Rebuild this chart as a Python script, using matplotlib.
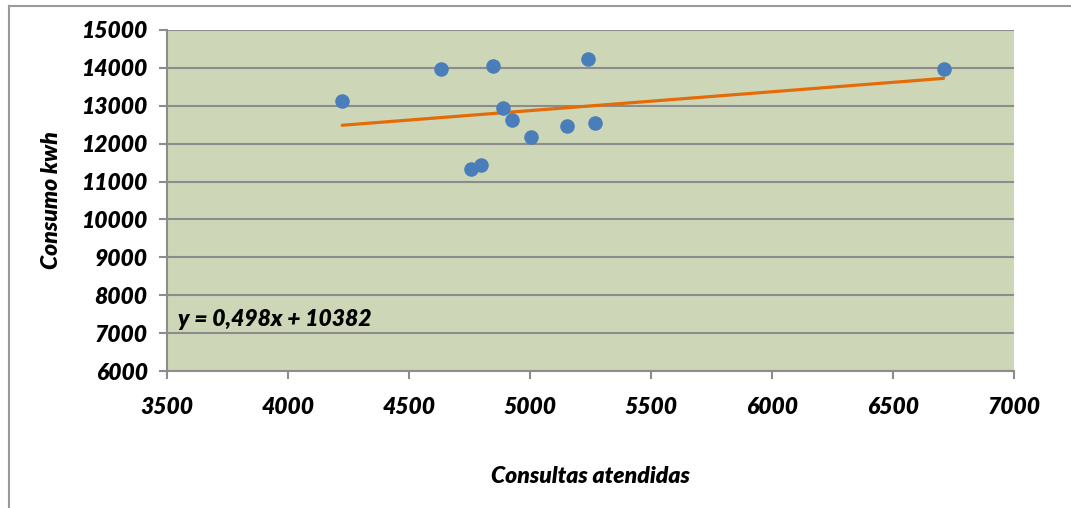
import matplotlib
matplotlib.use("Agg")
import matplotlib.pyplot as plt
from matplotlib.lines import Line2D
import numpy as np

# Data
consultas = [4224, 4632, 4847, 5238, 4890, 4926, 5005, 5154, 5269, 4757, 4799, 6709]
consumo = [13120, 13970, 14058, 14235, 12942, 12625, 12169, 12467, 12538, 11332, 11430, 13979]
slope = 0.498
intercept = 10382
x_ticks = [3500, 4000, 4500, 5000, 5500, 6000, 6500, 7000]
y_ticks = [6000, 7000, 8000, 9000, 10000, 11000, 12000, 13000, 14000, 15000]

FONT = ["Lato", "DejaVu Sans"]
WEIGHT = "heavy"
FS = 16.5
W, H = 1071, 508
fig = plt.figure(figsize=(W / 100, H / 100), dpi=100)
fig.patch.set_facecolor("white")

# outer chart frame (top and left visible)
frame_c = "#9a9a9a"
fig.add_artist(Line2D([9 / W, 1.0], [1 - 6 / H, 1 - 6 / H], transform=fig.transFigure,
                      color=frame_c, lw=1.5))
fig.add_artist(Line2D([9 / W, 9 / W], [1 - 6 / H, 0.0], transform=fig.transFigure,
                      color=frame_c, lw=1.5))

ax = fig.add_axes([167 / W, (H - 371) / H, (1014 - 167) / W, (371 - 30) / H])
ax.set_facecolor("#CDD7B8")
ax.set_xlim(3500, 7000)
ax.set_ylim(6000, 15000)
ax.set_xticks(x_ticks)
ax.set_yticks(y_ticks)

grid_c = "#8c8c8c"
ax.yaxis.grid(True, color=grid_c, lw=1.5)
ax.xaxis.grid(False)
ax.set_axisbelow(True)
for s in ["top", "right"]:
    ax.spines[s].set_visible(False)
for s in ["left", "bottom"]:
    ax.spines[s].set_color(grid_c)
    ax.spines[s].set_linewidth(1.5)
ax.tick_params(axis="both", direction="out", length=6, width=1.5, color=grid_c)
ax.tick_params(axis="x", pad=13)
ax.tick_params(axis="y", pad=8)

for lab in ax.get_xticklabels() + ax.get_yticklabels():
    lab.set_fontfamily(FONT)
    lab.set_fontweight(WEIGHT)
    lab.set_fontstyle("italic")
    lab.set_fontsize(FS)

# scatter
ax.scatter(consultas, consumo, s=110, color="#4A7EBB", zorder=3, linewidths=0)

# trendline
xs = np.array([min(consultas), max(consultas)])
ax.plot(xs, slope * xs + intercept, color="#E36C09", lw=2.3, zorder=2,
        solid_capstyle="round")

ax.text(3545, 7370, "y = 0,498x + 10382", fontfamily=FONT, fontweight=WEIGHT,
        fontstyle="italic", fontsize=FS, va="center", ha="left")

ax.set_xlabel("Consultas atendidas", fontfamily=FONT, fontweight=WEIGHT,
              fontstyle="italic", fontsize=FS, labelpad=34)
ax.set_ylabel("Consumo kwh", fontfamily=FONT, fontweight=WEIGHT,
              fontstyle="italic", fontsize=FS, labelpad=14)

fig.savefig("out.png", dpi=100)
